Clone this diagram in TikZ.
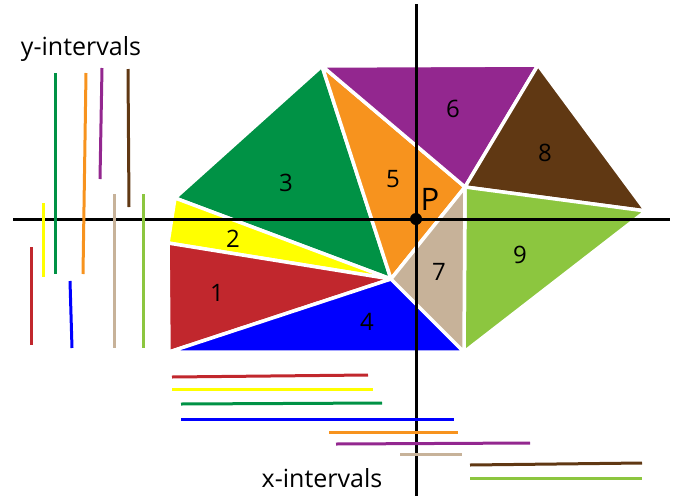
\documentclass[tikz,border=0pt]{standalone}
\usepackage{fontspec}
\setmainfont{Open Sans}
\definecolor{cred}{HTML}{C1272D}
\definecolor{cyellow}{HTML}{FFFF00}
\definecolor{cgreen}{HTML}{009245}
\definecolor{cblue}{HTML}{0000FF}
\definecolor{corange}{HTML}{F7931E}
\definecolor{cpurple}{HTML}{93278F}
\definecolor{cbrown}{HTML}{603813}
\definecolor{ctan}{HTML}{C7B299}
\definecolor{clgreen}{HTML}{8CC63F}
\tikzset{
  tri/.style={draw=white, line width=3.5pt, line join=round},
  axis/.style={draw=black, line width=3pt},
  ival/.style={line width=3pt},
  num/.style={font=\fontsize{24}{27}\selectfont, text=black, inner sep=0pt},
  captext/.style={font=\fontsize{25}{28}\selectfont, text=black, inner sep=0pt}
}
\begin{document}
\begin{tikzpicture}[x=1pt,y=-1pt]
\useasboundingbox (0,0) rectangle (675,496);
% shared vertices
\coordinate (A) at (322,66);
\coordinate (B) at (175,198);
\coordinate (C) at (391,279);
\coordinate (D) at (168,243);
\coordinate (E) at (169,352);
\coordinate (F) at (464,352);
\coordinate (G) at (465,187);
\coordinate (H) at (538,65);
\coordinate (I) at (646,211);
% triangles
\filldraw[tri, fill=cgreen]  (A) -- (B) -- (C) -- cycle;
\filldraw[tri, fill=cyellow] (B) -- (C) -- (D) -- cycle;
\filldraw[tri, fill=cred]    (D) -- (C) -- (E) -- cycle;
\filldraw[tri, fill=cblue]   (E) -- (C) -- (F) -- cycle;
\filldraw[tri, fill=corange] (A) -- (G) -- (C) -- cycle;
\filldraw[tri, fill=cpurple] (A) -- (H) -- (G) -- cycle;
\filldraw[tri, fill=cbrown]  (H) -- (I) -- (G) -- cycle;
\filldraw[tri, fill=clgreen] (G) -- (I) -- (F) -- cycle;
\filldraw[tri, fill=ctan]    (G) -- (F) -- (C) -- cycle;
% labels
\node[num] (n1) at (217,293) {1};
\node[num] (n2) at (233,239) {2};
\node[num] (n3) at (286,183) {3};
\node[num] (n4) at (367,322) {4};
\node[num] (n5) at (393,179) {5};
\node[num] (n6) at (453,109) {6};
\node[num] (n7) at (439,272) {7};
\node[num] (n8) at (545,153) {8};
\node[num] (n9) at (520,255) {9};
% axes
\coordinate (xl) at (13,219);
\coordinate (xr) at (670,219);
\coordinate (yt) at (416,4);
\coordinate (yb) at (416,496);
\draw[axis] (xl) -- (xr);
\draw[axis] (yt) -- (yb);
\node[circle, fill=black, minimum size=12pt, inner sep=0pt] (P) at (416,219) {};
\node[font=\fontsize{31}{34}\selectfont, inner sep=0pt] (Plabel) at (430,199) {P};
% y-intervals
\node[captext] (ylab) at (81,49) {y-intervals};
\draw[ival, cred]    (31,247) -- (31,345);
\draw[ival, cyellow] (43,203) -- (43,277);
\draw[ival, cgreen]  (55,73) -- (55,274);
\draw[ival, cblue]   (70,281) -- (72,348);
\draw[ival, corange] (86,73) -- (83,274);
\draw[ival, cpurple] (102,68) -- (100,179);
\draw[ival, cbrown]  (128,69) -- (129,207);
\draw[ival, ctan]    (114,194) -- (114,348);
\draw[ival, clgreen] (143,194) -- (143,348);
% x-intervals
\node[captext] (xlab) at (322,478) {x-intervals};
\draw[ival, cred]    (172,377) -- (368,375);
\draw[ival, cyellow] (172,389) -- (373,389);
\draw[ival, cgreen]  (181,404) -- (382,403);
\draw[ival, cblue]   (181,419) -- (454,419);
\draw[ival, corange] (329,432) -- (458,432);
\draw[ival, cpurple] (336,444) -- (530,443);
\draw[ival, ctan]    (400,454) -- (462,454);
\draw[ival, cbrown]  (470,465) -- (642,463);
\draw[ival, clgreen] (470,478) -- (642,478);
\end{tikzpicture}
\end{document}
